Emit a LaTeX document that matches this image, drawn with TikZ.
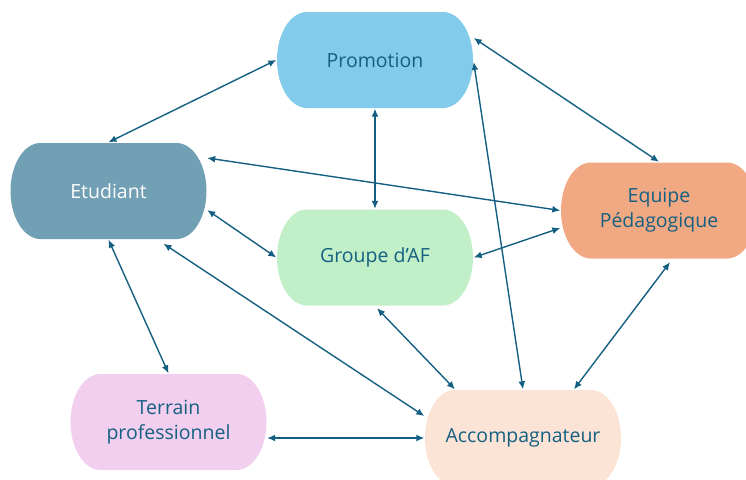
\documentclass[tikz,border=0pt]{standalone}
\usepackage{fontspec}
\setmainfont{Open Sans}
\usetikzlibrary{arrows.meta}

\definecolor{linkblue}{HTML}{156082}
\definecolor{promfill}{HTML}{83CBEB}
\definecolor{etudfill}{HTML}{71A0B4}
\definecolor{equipfill}{HTML}{F1A983}
\definecolor{groupfill}{HTML}{C1F0C8}
\definecolor{terrfill}{HTML}{F2CFEE}
\definecolor{accfill}{HTML}{FBE3D6}

\begin{document}
\begin{tikzpicture}[x=1pt,y=1pt,line width=1.4pt]
\tikzset{actor/.style = {minimum width=196pt, minimum height=96pt, inner sep=0pt,
    align=center, text=linkblue, font=\fontsize{19.5}{25}\selectfont,
    path picture={\fill[#1] ([xshift=30pt]path picture bounding box.north west)
      -- ([xshift=-30pt]path picture bounding box.north east)
      arc[start angle=90, end angle=-90, x radius=30pt, y radius=48pt]
      -- ([xshift=30pt]path picture bounding box.south west)
      arc[start angle=270, end angle=90, x radius=30pt, y radius=48pt] -- cycle;}},
  link/.style = {draw=linkblue, {Latex[length=8pt,width=7pt]}-{Latex[length=8pt,width=7pt]}}}
\useasboundingbox (0,0) rectangle (746,-479);

%states
\node[actor=promfill] (prom) at (375,-60) {Promotion};
\node[actor=etudfill, text=white] (etud) at (108.5,-191) {Etudiant};
\node[actor=equipfill] (equipe) at (659,-210.5) {Equipe\\ Pédagogique};
\node[actor=groupfill] (groupe) at (375,-257.5) {Groupe d’AF};
\node[actor=terrfill] (terrain) at (168.5,-422) {Terrain\\ professionnel};
\node[actor=accfill] (accomp) at (523,-438) {Accompagnateur};

%transitions
\path (etud.north) edge[link] (prom.west);
\path (prom.south) edge[link] (groupe.north);
\path ([yshift=22pt]prom.east) edge[link] (equipe.north);
\path ([yshift=-2pt]prom.east) edge[link] (accomp.north);

\path ([yshift=33pt]etud.east) edge[link] (equipe.west);
\path ([yshift=-19pt]etud.east) edge[link] (groupe.west);
\path (groupe.east) edge[link] ([yshift=-17.5pt]equipe.west);

\path (etud.south) edge[link] (terrain.north);
\path ([xshift=55pt,yshift=-4pt]etud.south) edge[link] ([yshift=22pt]accomp.west);
\path ([xshift=2pt,yshift=-2pt]groupe.south) edge[link] ([xshift=-68pt]accomp.north);
\path ([xshift=11pt,yshift=-3pt]equipe.south) edge[link] ([xshift=51pt]accomp.north);

\path ([yshift=-16pt]terrain.east) edge[link] (accomp.west);

\end{tikzpicture}
\end{document}
